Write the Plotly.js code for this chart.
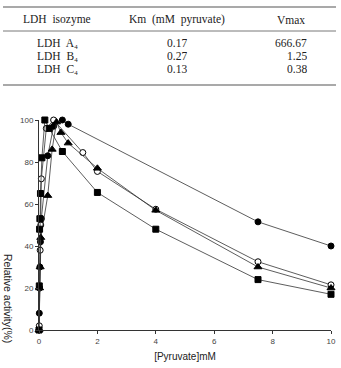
<!DOCTYPE html>
<html>
<head>
<meta charset="utf-8">
<script src="https://cdn.plot.ly/plotly-3.0.1.min.js"></script>
<style>html,body{margin:0;padding:0;background:#fff;}#chart{width:341px;height:368px;}</style>
</head>
<body>
<div id="chart"></div>
<script>
// ---- Table data ----
var isozymes = ["LDH  A\u2084", "LDH  B\u2084", "LDH  C\u2084"];
var kmValues = ["0.17", "0.27", "0.13"];
var vmaxValues = ["666.67", "1.25", "0.38"];
var tableHeaders = ["LDH  isozyme", "Km  (mM  pyruvate)", "Vmax"];

// ---- Chart data ----
var circleX = [0, 0.01, 0.02, 0.03, 0.05, 0.08, 0.3, 0.5, 0.8, 1.0, 7.5, 10];
var circleY = [0, 8, 20, 30, 42, 53, 83, 97, 100, 98, 51.5, 40];

var openX = [0, 0.01, 0.02, 0.04, 0.06, 0.08, 0.25, 0.5, 1.5, 2, 4, 7.5, 10];
var openY = [0, 2, 20, 38, 50, 72, 96, 100, 84.5, 75.5, 57.5, 32.5, 21.5];

var triX = [0, 0.02, 0.04, 0.06, 0.3, 0.45, 0.6, 0.75, 1.0, 2, 4, 7.5, 10];
var triY = [0, 20, 30, 44, 64, 86, 99, 94, 89, 77, 57, 30, 20];

var squareX = [0, 0.01, 0.02, 0.03, 0.05, 0.1, 0.2, 0.35, 0.8, 2, 4, 7.5, 10];
var squareY = [0, 21, 48, 53, 65, 82, 100, 96, 85, 65.5, 48, 24, 17];

var xTicks = [0, 2, 4, 6, 8, 10];
var yTicks = [0, 20, 40, 60, 80, 100];

// ---- layout geometry ----
var W = 341, H = 368, mL = 39, mR = 10, mT = 120, mB = 38;
var pw = W - mL - mR, ph = H - mT - mB;
function px2x(px) { return (px - mL) / pw; }
function py2y(py) { return (H - mB - py) / ph; }

var lineStyle = {color: '#333', width: 0.8};
function trace(x, y, symbol, fill) {
  return {
    x: x, y: y, type: 'scatter', mode: 'lines+markers',
    line: lineStyle,
    marker: {symbol: symbol, size: symbol === 'triangle-up' ? 7 : 6, color: fill,
             line: {color: '#000', width: 1}},
    cliponaxis: false, hoverinfo: 'none'
  };
}
var data = [
  trace(circleX, circleY, 'circle', '#000'),
  trace(openX, openY, 'circle', '#fff'),
  trace(triX, triY, 'triangle-up', '#000'),
  trace(squareX, squareY, 'square', '#000')
];

var serif = {family: 'Liberation Serif, DejaVu Serif, serif', size: 11.5, color: '#222'};
var annotations = [];
var colX = [57, 177, 291];
tableHeaders.forEach(function (t, i) {
  annotations.push({xref: 'paper', yref: 'paper', x: px2x(colX[i]), y: py2y(20),
    text: t, showarrow: false, xanchor: 'center', yanchor: 'middle', font: serif});
});
var rowY = [42, 55, 68];
function cell(px, py, txt, anchor) {
  return {xref: 'paper', yref: 'paper', x: px2x(px), y: py2y(py), text: txt,
    showarrow: false, xanchor: anchor, yanchor: 'middle', font: serif,
    height: 13, borderpad: 0, valign: 'middle'};
}
for (var i = 0; i < isozymes.length; i++) {
  annotations.push(cell(57, rowY[i], isozymes[i], 'center'));
  annotations.push(cell(177, rowY[i], kmValues[i], 'center'));
  annotations.push(cell(308, rowY[i], vmaxValues[i], 'right'));
}
annotations.push({xref: 'paper', yref: 'paper', x: px2x(8), y: py2y(298),
  text: 'Relative activity(%)', textangle: 90, showarrow: false,
  xanchor: 'center', yanchor: 'middle',
  font: {family: 'Liberation Sans, Arial, sans-serif', size: 10.5, color: '#222'}});

var shapes = [7, 31, 85].map(function (py, k) {
  return {type: 'line', xref: 'paper', yref: 'paper',
    x0: px2x(3), x1: px2x(336), y0: py2y(py), y1: py2y(py),
    line: {color: '#555', width: k === 1 ? 0.8 : 1.2}};
});

var tickFont = {family: 'Liberation Sans, Arial, sans-serif', size: 8, color: '#444'};
var layout = {
  width: W, height: H,
  margin: {l: mL, r: mR, t: mT, b: mB, pad: 0},
  paper_bgcolor: '#fff', plot_bgcolor: '#fff',
  showlegend: false,
  xaxis: {range: [0, 10], tickvals: xTicks, ticktext: xTicks.map(String),
    showgrid: false, zeroline: false, showline: true, linecolor: '#333', linewidth: 1,
    ticks: 'outside', ticklen: 3, tickcolor: '#333', tickfont: tickFont,
    title: {text: '[Pyruvate]mM', standoff: 8,
      font: {family: 'Liberation Sans, Arial, sans-serif', size: 10, color: '#222'}}},
  yaxis: {range: [0, 100], tickvals: yTicks, ticktext: yTicks.map(String),
    showgrid: false, zeroline: false, showline: true, linecolor: '#333', linewidth: 1,
    ticks: 'outside', ticklen: 3, tickcolor: '#333', tickfont: tickFont},
  annotations: annotations,
  shapes: shapes
};
Plotly.newPlot('chart', data, layout, {staticPlot: true, displayModeBar: false});
</script>
</body>
</html>
